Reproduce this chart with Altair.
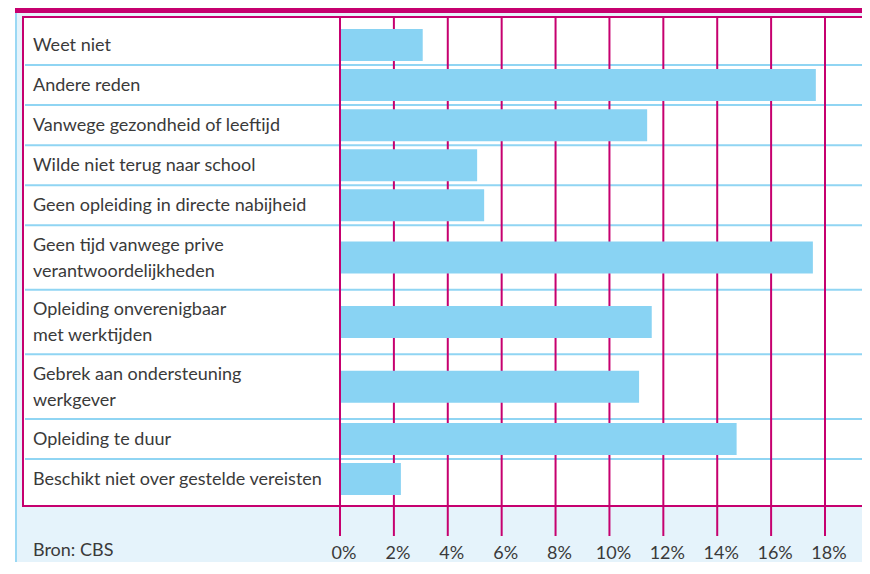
import altair as alt
import pandas as pd

# ---- data ----
categories = [
    "Weet niet",
    "Andere reden",
    "Vanwege gezondheid of leeftijd",
    "Wilde niet terug naar school",
    "Geen opleiding in directe nabijheid",
    "Geen tijd vanwege prive|verantwoordelijkheden",
    "Opleiding onverenigbaar|met werktijden",
    "Gebrek aan ondersteuning|werkgever",
    "Opleiding te duur",
    "Beschikt niet over gestelde vereisten",
]
values = [3.07, 17.66, 11.40, 5.09, 5.35, 17.55, 11.57, 11.10, 14.72, 2.26]
tick_values = [0, 2, 4, 6, 8, 10, 12, 14, 16, 18]
tick_labels = ["0%", "2%", "4%", "6%", "8%", "10%", "12%", "14%", "16%", "18%"]
source_text = ["Bron: CBS"]

# ---- style ----
MAGENTA = "#C6006F"
BAR = "#89D3F3"
BG = "#E5F3FB"
SEP = "#90D5F3"
EDGE = "#9AD8F4"
TEXT = "#3A3A3A"
FONT = "Lato"
W, H = 839, 489
LH = 26

# row layout derived from number of label lines
n_lines = [c.count("|") + 1 for c in categories]
row_h = [16 + 25 * n for n in n_lines]
starts, acc = [], 0
for h in row_h:
    starts.append(acc)
    acc += h
total = acc
df = pd.DataFrame({
    "label": categories,
    "value": values,
    "start": starts,
    "end": [s + h for s, h in zip(starts, row_h)],
    "nl": n_lines,
})
df["mid"] = (df["start"] + df["end"]) / 2
df["text_y"] = df["mid"] - (df["nl"] - 1) * LH / 2
df["zero"] = 0.0
seps = pd.DataFrame({"b": df["end"].iloc[:-1]})
ticks = pd.DataFrame({"tick": tick_values, "label": tick_labels})
src = pd.DataFrame({"src": source_text})
one = pd.DataFrame({"a": [0]})

xscale = alt.Scale(domain=[0, 18], range=[317, 802], nice=False, zero=False)
yscale = alt.Scale(domain=[-3, total + 2], reverse=True, nice=False, zero=False)

bg = alt.Chart(one).mark_rect(color=BG).encode(
    x=alt.value(-7), x2=alt.value(W + 30), y=alt.value(-9), y2=alt.value(H + 90))
edge = alt.Chart(one).mark_rule(color=EDGE, strokeWidth=2).encode(
    x=alt.value(-7), y=alt.value(-9), y2=alt.value(H + 90))
band = alt.Chart(one).mark_rect(color=MAGENTA).encode(
    x=alt.value(-8), x2=alt.value(W + 30), y=alt.value(-9), y2=alt.value(-4))
panel = alt.Chart(one).mark_rect(fill="white", stroke=MAGENTA, strokeWidth=2).encode(
    x=alt.value(0), x2=alt.value(W + 30), y=alt.value(0), y2=alt.value(H))

sep_rules = alt.Chart(seps).mark_rule(color=SEP, strokeWidth=2).encode(
    y=alt.Y("b:Q", scale=yscale, axis=None), x=alt.value(2), x2=alt.value(W + 30))

grid = alt.Chart(ticks).mark_rule(color=MAGENTA, strokeWidth=2).encode(
    x=alt.X("tick:Q", scale=xscale, axis=None), y=alt.value(0), y2=alt.value(H + 30))

bars = alt.Chart(df).mark_bar(orient="horizontal", size=32, color=BAR).encode(
    x=alt.X("zero:Q", scale=xscale, axis=None),
    x2="value:Q",
    y=alt.Y("mid:Q", scale=yscale, axis=None),
)

zero_line = alt.Chart(ticks).transform_filter("datum.tick == 0").mark_rule(
    color=MAGENTA, strokeWidth=2).encode(
    x=alt.X("tick:Q", scale=xscale, axis=None), y=alt.value(0), y2=alt.value(H + 30))

labels = alt.Chart(df).transform_calculate(
    lines="split(datum.label, '|')"
).mark_text(align="left", baseline="middle", font=FONT, fontSize=18,
            lineHeight=LH, color=TEXT, dy=1).encode(
    x=alt.value(10), y=alt.Y("text_y:Q", scale=yscale, axis=None), text="lines:N")

tick_text = alt.Chart(ticks).mark_text(
    align="center", baseline="alphabetic", font=FONT, fontSize=18, color=TEXT, dx=4).encode(
    x=alt.X("tick:Q", scale=xscale, axis=None), y=alt.value(H + 53), text="label:N")

src_text = alt.Chart(src).mark_text(
    align="left", baseline="alphabetic", font=FONT, fontSize=18, color=TEXT).encode(
    x=alt.value(10), y=alt.value(H + 50), text="src:N")

chart = alt.layer(
    bg, edge, band, panel, sep_rules, grid, bars, zero_line, labels, tick_text, src_text
).properties(
    width=W, height=H,
    padding={"left": 15, "top": 9, "right": 0, "bottom": 56},
    autosize="none",
    background="white",
).configure_view(strokeWidth=0)

chart.save("out.html", embed_options={"renderer": "svg", "actions": False})
